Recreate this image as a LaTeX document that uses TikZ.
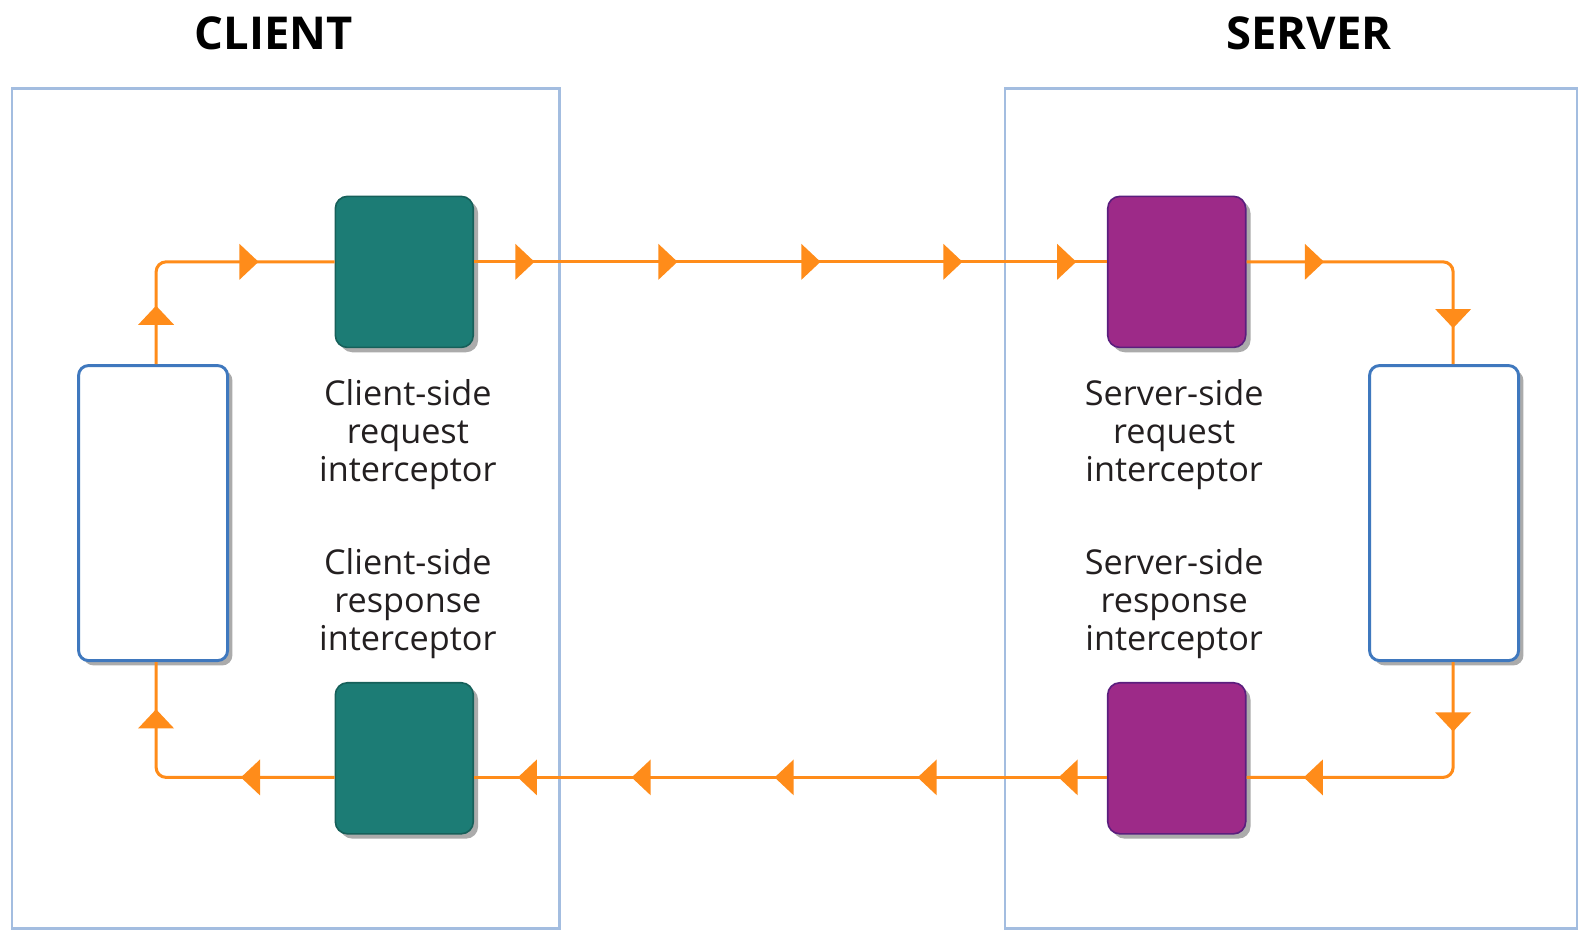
\documentclass[tikz,border=0pt]{standalone}
\usepackage{fontspec}
\setmainfont{Open Sans}
\usetikzlibrary{arrows.meta,decorations.markings,shadows,calc}

\definecolor{flowc}{HTML}{FF8C1A}
\definecolor{framec}{HTML}{A3BDE0}
\definecolor{tealfill}{HTML}{1C7C75}
\definecolor{tealline}{HTML}{16605A}
\definecolor{purplefill}{HTML}{9D2A88}
\definecolor{purpleline}{HTML}{5B1E7E}
\definecolor{appline}{HTML}{3F78BE}
\definecolor{textc}{HTML}{231F20}

\tikzset{
  flowtip/.tip={Triangle[length=9.5pt,width=17.5pt]},
  frame/.style={draw=framec, line width=1.4pt},
  softshadow/.style={drop shadow={shadow xshift=2.4pt, shadow yshift=-2.4pt, fill=black, opacity=0.33}},
  icpt/.style={rounded corners=6pt, minimum width=68.5pt, minimum height=75pt, line width=0.8pt, softshadow},
  clienticpt/.style={icpt, fill=tealfill, draw=tealline},
  servericpt/.style={icpt, fill=purplefill, draw=purpleline},
  appbox/.style={rounded corners=5pt, minimum width=74pt, minimum height=146.5pt, draw=appline, fill=white, line width=1.45pt, softshadow},
  title/.style={font=\fontsize{22.5}{27}\selectfont\bfseries, text=black},
  label/.style={font=\fontsize{17}{19}\selectfont, text=textc, align=center, anchor=north, inner sep=0pt},
  flow/.style={draw=flowc, line width=1.5pt, rounded corners=5pt, postaction={decorate}}
}

\begin{document}
\begin{tikzpicture}[x=0.5pt,y=-0.5pt]
\useasboundingbox (0,0) rectangle (1568,925);

% process frames
\draw[frame] (12,88) rectangle (556,922);
\draw[frame] (998,88) rectangle (1566,922);

\node[title] (clienttitle) at (272,33) {CLIENT};
\node[title] (servertitle) at (1300,33) {SERVER};

% application boxes
\node[appbox] (cl) at (152,509.5) {};
\node[appbox] (cr) at (1434,509.5) {};

% interceptors
\node[clienticpt] (ct) at (401.5,270) {};
\node[clienticpt] (cb) at (401.5,753) {};
\node[servericpt] (pt) at (1168.5,270) {};
\node[servericpt] (pb) at (1168.5,753) {};

\node[label] (ctl) at (405,376) {Client-side\\request\\interceptor};
\node[label] (cbl) at (405,544) {Client-side\\response\\interceptor};
\node[label] (ptl) at (1166,376) {Server-side\\request\\interceptor};
\node[label] (pbl) at (1166,544) {Server-side\\response\\interceptor};

% routing rails
\coordinate (ytop) at (0,260);
\coordinate (ybot) at (0,772);
\coordinate (xl) at (155,0);
\coordinate (xr) at (1443,0);

% request path
\draw[flow, decoration={markings,
    mark=at position 29pt with {\arrow[flowc]{flowtip}},
    mark=at position 99.5pt with {\arrow[flowc]{flowtip}}}]
  (cl.north -| xl) |- (ct.west |- ytop);
\draw[flow, decoration={markings,
    mark=at position 30pt with {\arrow[flowc]{flowtip}},
    mark=at position 101pt with {\arrow[flowc]{flowtip}},
    mark=at position 172pt with {\arrow[flowc]{flowtip}},
    mark=at position 242.5pt with {\arrow[flowc]{flowtip}},
    mark=at position 299pt with {\arrow[flowc]{flowtip}}}]
  (ct.east |- ytop) -- (pt.west |- ytop);
\draw[flow, decoration={markings,
    mark=at position 38.5pt with {\arrow[flowc]{flowtip}},
    mark=at position 133.4pt with {\arrow[flowc]{flowtip}}}]
  (pt.east |- ytop) -| (cr.north -| xr);

% response path
\draw[flow, decoration={markings,
    mark=at position 34.5pt with {\arrow[flowc]{flowtip}},
    mark=at position 129.3pt with {\arrow[flowc]{flowtip}}}]
  (cr.south -| xr) |- (pb.east |- ybot);
\draw[flow, decoration={markings,
    mark=at position 24pt with {\arrow[flowc]{flowtip}},
    mark=at position 94pt with {\arrow[flowc]{flowtip}},
    mark=at position 165pt with {\arrow[flowc]{flowtip}},
    mark=at position 236pt with {\arrow[flowc]{flowtip}},
    mark=at position 292.5pt with {\arrow[flowc]{flowtip}}}]
  (pb.west |- ybot) -- (cb.east |- ybot);
\draw[flow, decoration={markings,
    mark=at position 46.5pt with {\arrow[flowc]{flowtip}},
    mark=at position 120.3pt with {\arrow[flowc]{flowtip}}}]
  (cb.west |- ybot) -| (cl.south -| xl);
\end{tikzpicture}
\end{document}
